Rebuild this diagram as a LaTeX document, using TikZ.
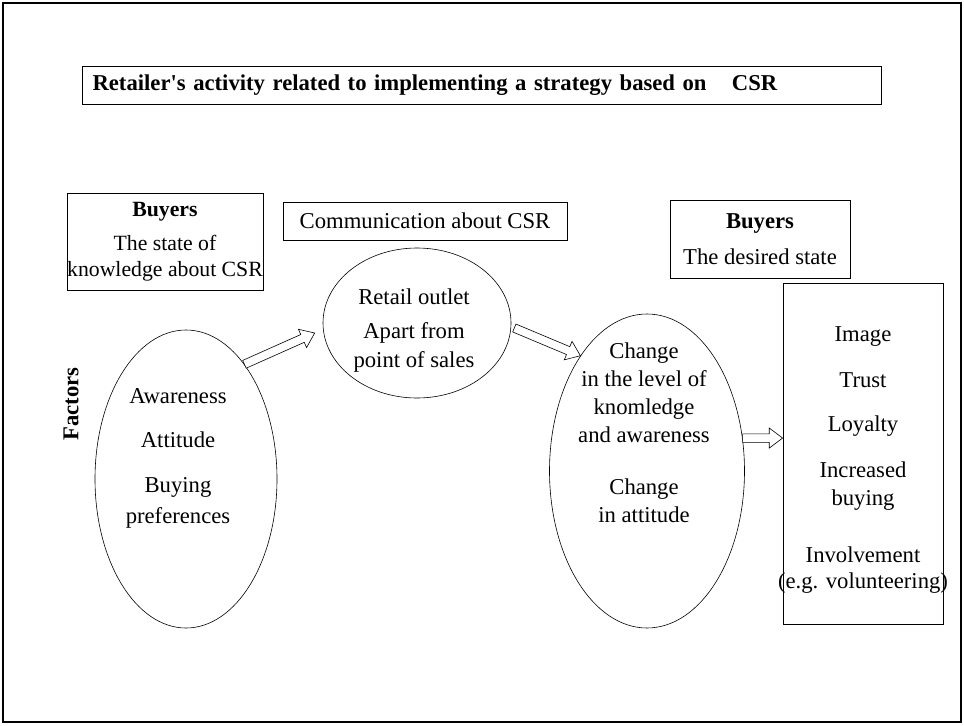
\documentclass[tikz,border=0pt]{standalone}
\usepackage{fontspec}
\setmainfont{Liberation Serif}
\usetikzlibrary{calc,shapes.geometric}

\tikzset{
  box/.style={draw, line width=0.6pt, inner sep=0pt, align=center, font=\fontsize{17}{21}\selectfont},
  oval/.style={draw, ellipse, line width=0.45pt, inner sep=0pt},
  txt/.style={align=center, inner sep=0pt, anchor=base, font=\fontsize{17}{21}\selectfont},
  blockarrow/.style={draw, fill=white, line width=0.45pt, line join=miter}
}

\newcommand{\hollowarrow}[2]{%
  \draw[blockarrow] let \p1=(#1), \p2=(#2), \n1={atan2(\y2-\y1,\x2-\x1)} in
    ($(\p1)+(\n1+90:3.2pt)$) -- ($(\p2)+(\n1:-10pt)+(\n1+90:3.2pt)$)
    -- ($(\p2)+(\n1:-10pt)+(\n1+90:7.5pt)$) -- (\p2)
    -- ($(\p2)+(\n1:-10pt)+(\n1-90:7.5pt)$) -- ($(\p2)+(\n1:-10pt)+(\n1-90:3.2pt)$)
    -- ($(\p1)+(\n1-90:3.2pt)$) -- cycle;}

\begin{document}
\begin{tikzpicture}[x=0.75pt,y=-0.75pt]
\useasboundingbox (0,0) rectangle (964,725);
\draw[line width=2.2pt] (3,3) rectangle (961,722);

\node[box, anchor=north west, minimum width=599.25pt, minimum height=28.5pt, text width=584pt, inner xsep=7.5pt, align=left, font=\bfseries\fontsize{17}{21}\selectfont] (title) at (82,66) {Retailer{\textquotesingle}s activity related to implementing a strategy based on\hspace{19pt}CSR};

\node[box, minimum width=147pt, minimum height=72.75pt, font=\fontsize{16.3}{20}\selectfont] (buyersnow) at (165,241.5) {\textbf{Buyers}\\[5.5pt]The state of\\[-0.5pt]knowledge about CSR};
\node[box, minimum width=213pt, minimum height=28.5pt] (comm) at (425,221) {Communication about CSR};
\node[box, minimum width=135pt, minimum height=58.5pt] (buyersgoal) at (760,239) {\textbf{Buyers}\\[6pt]The desired state};
\node[box, minimum width=120pt, minimum height=255.75pt] (results) at (863,453.5) {};

\node[oval, minimum width=136.5pt, minimum height=223.5pt] (factorsov) at (186,479) {};
\node[oval, minimum width=141pt, minimum height=112.5pt] (outletov) at (417,323) {};
\node[oval, minimum width=146.25pt, minimum height=235.5pt] (changeov) at (647,471) {};

\node[rotate=90, inner sep=0pt, font=\bfseries\fontsize{17}{21}\selectfont] (factors) at (71,404) {Factors};

\node[txt] (factorstext) at (178,523) {Awareness\\[12pt]Attitude\\[12.75pt]Buying\\[2.25pt]preferences};
\node[txt] (outlettext) at (414,367) {Retail outlet\\[4.5pt]Apart from\\[0.75pt]point of sales};
\node[txt] (changetext) at (644,522) {Change\\in the level of\\knomledge\\and awareness\\[18pt]Change\\in attitude};
\node[txt] (resultstext) at (863,588) {Image\\[13.5pt]Trust\\[12pt]Loyalty\\[13.5pt]Increased\\buying\\[21.75pt]Involvement\\[-1.5pt](e.g. volunteering)};

\coordinate (a1e) at ($(outletov.west)+(-8,10)$);
\coordinate (a2s) at ($(outletov.east)+(3,5)$);
\coordinate (a3s) at (changeov.19.6);
\coordinate (a3e) at (results.west |- a3s);
\hollowarrow{factorsov.63}{a1e}
\hollowarrow{a2s}{changeov.120}
\hollowarrow{a3s}{a3e}
\end{tikzpicture}
\end{document}
